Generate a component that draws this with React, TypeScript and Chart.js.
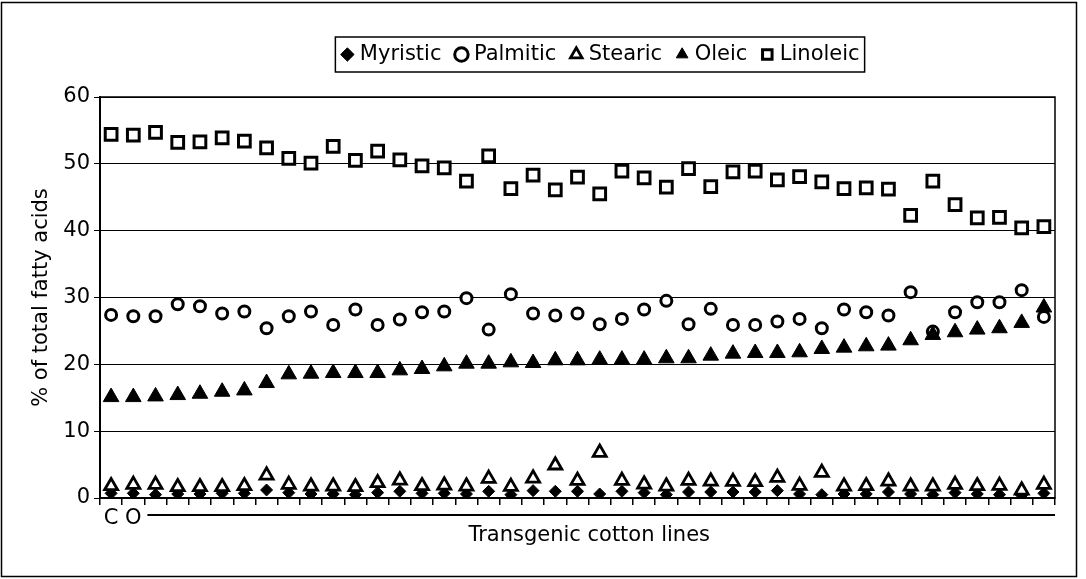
import React, { useEffect, useRef } from 'react';
import { Chart, registerables } from 'chart.js';

Chart.register(...registerables);

const seriesNames = ['Myristic', 'Palmitic', 'Stearic', 'Oleic', 'Linoleic'];

const lineLabels = ['C', 'O', '', '', '', '', '', '', '', '', '', '', '', '', '', '', '', '', '', '', '', '', '', '', '', '', '', '', '', '', '', '', '', '', '', '', '', '', '', '', '', '', ''];

const myristic = [0.7, 0.7, 0.5, 0.6, 0.6, 0.7, 0.7, 1.2, 0.8, 0.6, 0.6, 0.5, 0.8, 1.0, 0.7, 0.7, 0.6, 1.0, 0.5, 1.1, 1.0, 1.0, 0.6, 1.0, 0.8, 0.5, 0.9, 0.9, 0.9, 0.9, 1.1, 0.6, 0.5, 0.6, 0.6, 0.9, 0.6, 0.5, 0.8, 0.6, 0.5, 0.4, 0.7];

const palmitic = [27.4, 27.2, 27.2, 29.0, 28.7, 27.6, 27.9, 25.4, 27.2, 27.9, 25.9, 28.2, 25.9, 26.7, 27.8, 27.9, 29.9, 25.2, 30.5, 27.6, 27.3, 27.6, 26.0, 26.8, 28.2, 29.5, 26.0, 28.3, 25.9, 25.9, 26.4, 26.8, 25.4, 28.2, 27.8, 27.3, 30.8, 24.9, 27.8, 29.3, 29.3, 31.1, 27.1];

const stearic = [1.8, 2.0, 2.0, 1.65, 1.65, 1.65, 1.8, 3.4, 2.0, 1.75, 1.75, 1.65, 2.25, 2.65, 1.8, 1.9, 1.75, 2.9, 1.7, 2.95, 4.9, 2.6, 6.8, 2.6, 2.05, 1.75, 2.6, 2.5, 2.45, 2.4, 3.05, 1.85, 3.8, 1.75, 1.8, 2.5, 1.75, 1.75, 2.0, 1.8, 1.85, 1.15, 2.0];

const oleic = [15.1, 15.1, 15.2, 15.4, 15.6, 15.9, 16.1, 17.2, 18.5, 18.6, 18.7, 18.7, 18.7, 19.1, 19.3, 19.7, 20.1, 20.1, 20.3, 20.2, 20.6, 20.6, 20.7, 20.7, 20.7, 20.9, 20.9, 21.3, 21.6, 21.7, 21.7, 21.8, 22.3, 22.5, 22.7, 22.8, 23.6, 24.4, 24.8, 25.2, 25.4, 26.2, 28.5];

const linoleic = [54.4, 54.3, 54.7, 53.2, 53.3, 53.9, 53.4, 52.4, 50.8, 50.1, 52.6, 50.5, 51.9, 50.6, 49.7, 49.4, 47.4, 51.2, 46.3, 48.3, 46.1, 48.0, 45.5, 48.9, 47.9, 46.5, 49.3, 46.6, 48.8, 48.9, 47.6, 48.1, 47.3, 46.3, 46.4, 46.2, 42.3, 47.4, 43.9, 41.9, 42.0, 40.4, 40.6];

const yMin = 0;
const yMax = 60;
const yStep = 10;
const yTitle = '% of total fatty acids';
const xTitle = 'Transgenic cotton lines';

const FONT = '"DejaVu Sans", sans-serif';
const FS = 21;

export default function App() {
  const ref = useRef<HTMLCanvasElement>(null);

  useEffect(() => {
    document.body.style.margin = '0';
    const canvas = ref.current;
    if (!canvas) return;

    const framePlugin = {
      id: 'frame',
      afterLayout(chart: any) {
        const lg = chart.legend;
        if (lg) {
          lg.left += 64;
          lg.right += 64;
          lg.top -= 22;
          lg.bottom -= 22;
        }
      },
      afterDraw(chart: any) {
        const ctx = chart.ctx;
        const a = chart.chartArea;
        const xs = chart.scales.x;
        ctx.save();
        ctx.strokeStyle = '#000';
        // outer frame
        ctx.lineWidth = 1.5;
        ctx.strokeRect(1.5, 2.5, 1075, 574);
        // plot area frame
        ctx.lineWidth = 1.5;
        ctx.strokeRect(a.left, a.top, a.right - a.left, a.bottom - a.top);
        // legend frame
        const hb = chart.legend && chart.legend.legendHitBoxes;
        if (hb && hb.length) {
          let l = Infinity, r = -Infinity, t = Infinity, b = -Infinity;
          for (const h of hb) {
            l = Math.min(l, h.left);
            r = Math.max(r, h.left + h.width);
            t = Math.min(t, h.top);
            b = Math.max(b, h.top + h.height);
          }
          ctx.lineWidth = 1.5;
          ctx.strokeRect(l - 10, t - 7, r - l + 15, b - t + 14);
        }
        // bracket line under the transgenic lines
        const x0 = (xs.getPixelForValue(1) + xs.getPixelForValue(2)) / 2 + 3;
        const yLine = xs.top + 17;
        ctx.lineWidth = 2;
        ctx.beginPath();
        ctx.moveTo(x0, yLine);
        ctx.lineTo(a.right, yLine);
        ctx.stroke();
        // axis title
        ctx.fillStyle = '#000';
        ctx.font = `${FS}px ${FONT}`;
        ctx.textAlign = 'center';
        ctx.textBaseline = 'middle';
        ctx.fillText(xTitle, (x0 + a.right) / 2 - 12, xs.top + 38);
        ctx.restore();
      },
    };

    const chart = new Chart(canvas, {
      type: 'line',
      data: {
        labels: lineLabels,
        datasets: [
          {
            label: seriesNames[0], data: myristic, order: 5,
            pointStyle: 'rectRot', pointRadius: 6, borderWidth: 1,
            borderColor: '#000', backgroundColor: '#000', showLine: false,
          },
          {
            label: seriesNames[1], data: palmitic, order: 4,
            pointStyle: 'circle', pointRadius: 5.5, borderWidth: 3,
            borderColor: '#000', backgroundColor: '#fff', showLine: false,
          },
          {
            label: seriesNames[2], data: stearic, order: 3,
            pointStyle: 'triangle', pointRadius: 7.5, borderWidth: 2.8,
            borderColor: '#000', backgroundColor: '#fff', showLine: false,
          },
          {
            label: seriesNames[3], data: oleic, order: 2,
            pointStyle: 'triangle', pointRadius: 9, borderWidth: 1,
            borderColor: '#000', backgroundColor: '#000', showLine: false,
          },
          {
            label: seriesNames[4], data: linoleic, order: 1,
            pointStyle: 'rect', pointRadius: 8.3, borderWidth: 3,
            borderColor: '#000', backgroundColor: '#fff', showLine: false,
          },
        ],
      },
      options: {
        responsive: false,
        animation: false,
        devicePixelRatio: 1,
        events: [],
        layout: { padding: { left: 22, right: 31, top: 48, bottom: 0 } },
        plugins: {
          tooltip: { enabled: false },
          legend: {
            display: true,
            position: 'top',
            labels: {
              usePointStyle: true,
              boxWidth: 4,
              boxHeight: 9.5,
              padding: 18,
              color: '#000',
              font: { family: FONT, size: FS },
              sort: (a: any, b: any) => a.datasetIndex - b.datasetIndex,
            },
          },
        },
        scales: {
          x: {
            type: 'category',
            offset: true,
            grid: {
              display: true,
              drawOnChartArea: false,
              drawTicks: true,
              tickLength: 7,
              color: '#000',
              lineWidth: 1.5,
              offset: true,
            },
            border: { display: true, color: '#000', width: 2 },
            ticks: {
              autoSkip: false,
              maxRotation: 0,
              minRotation: 0,
              padding: 1,
              color: '#000',
              font: { family: FONT, size: FS },
            },
            afterFit: (s: any) => { s.height = 81; },
          },
          y: {
            min: yMin,
            max: yMax,
            ticks: {
              stepSize: yStep,
              padding: 4,
              color: '#000',
              font: { family: FONT, size: FS },
            },
            grid: { color: '#000', lineWidth: 1, tickLength: 6, drawTicks: true },
            border: { display: true, color: '#000', width: 2 },
            title: {
              display: true,
              text: yTitle,
              color: '#000',
              font: { family: FONT, size: FS },
              padding: { top: 7, bottom: 0 },
            },
            afterFit: (s: any) => { s.width = 78; },
          },
        },
      },
      plugins: [framePlugin],
    });

    return () => chart.destroy();
  }, []);

  return (
    <div style={{ width: 1086, height: 579 }}>
      <canvas ref={ref} width={1086} height={579} style={{ display: 'block', width: 1086, height: 579 }} />
    </div>
  );
}
